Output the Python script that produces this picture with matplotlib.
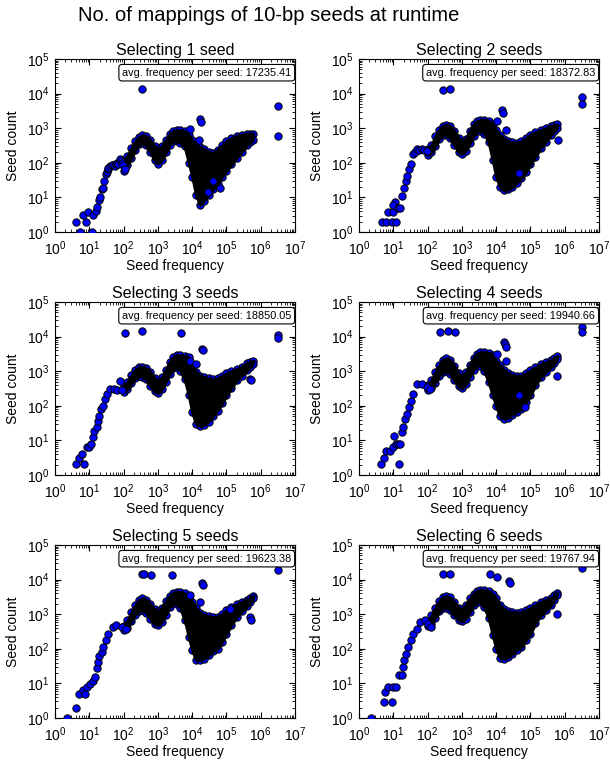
import matplotlib
matplotlib.use("Agg")
import matplotlib.pyplot as plt
from matplotlib.ticker import LogLocator

plt.rcParams['font.family'] = ['Liberation Sans', 'DejaVu Sans']
plt.rcParams['mathtext.default'] = 'regular'

titles = ["Selecting 1 seed", "Selecting 2 seeds", "Selecting 3 seeds",
          "Selecting 4 seeds", "Selecting 5 seeds", "Selecting 6 seeds"]
avg_freq = [17235.41, 18372.83, 18850.05, 19940.66, 19623.38, 19767.94]

# frequencies where the dense part of the cloud is sampled
band_x = [100, 130, 170, 220, 280, 350, 450, 600, 800, 1000, 1300, 1700, 2200, 2800,
          3500, 4500, 6000, 8000, 1e4, 1.3e4, 1.7e4, 2.2e4, 3e4, 4e4, 5.5e4, 7.5e4,
          1e5, 1.4e5, 2e5, 2.8e5, 4e5, 5e5, 6e5]

hi1 = [115, 160, 270, 420, 550, 630, 600, 450, 300, 250, 300, 450, 680, 820, 870, 880, 820,
       650, 450, 320, 290, 250, 210, 190, 240, 320, 420, 520, 600, 650, 680, 700, 700]
lo1 = [60, 85, 140, 240, 340, 370, 320, 200, 120, 95, 120, 200, 330, 420, 420, 380, 300,
       100, 40, 12, 6, 8, 12, 17, 25, 40, 60, 90, 140, 210, 330, 400, 460]
hi2 = [250, 330, 580, 900, 1150, 1250, 1180, 850, 540, 400, 500, 850, 1300, 1600, 1750, 1750,
       1650, 1350, 900, 620, 500, 430, 390, 380, 420, 520, 650, 760, 880, 1000, 1150, 1250, 1300]
lo2 = [170, 200, 310, 500, 650, 620, 520, 330, 210, 180, 220, 370, 600, 820, 850, 700, 400,
       120, 40, 20, 16, 17, 20, 27, 36, 55, 90, 150, 270, 400, 650, 850, 1000]
hi3 = [380, 500, 780, 1100, 1300, 1350, 1250, 950, 640, 500, 660, 1100, 1850, 2550, 2900, 2900,
       2800, 2500, 1500, 950, 750, 680, 620, 580, 620, 730, 860, 1000, 1150, 1350, 1700, 1850, 2000]
lo3 = [250, 300, 450, 630, 720, 700, 580, 370, 270, 230, 300, 500, 820, 1200, 1300, 1000, 600,
       200, 65, 30, 26, 28, 35, 50, 73, 120, 200, 330, 540, 750, 1060, 1350, 1650]
hi4 = [400, 560, 950, 1550, 2150, 2350, 2150, 1450, 880, 700, 920, 1550, 2450, 3250, 3550, 3550,
       3400, 3000, 2000, 1500, 1100, 880, 780, 720, 740, 860, 1050, 1300, 1600, 1800, 2100, 2400, 2700]
lo4 = [280, 320, 470, 740, 950, 1000, 850, 540, 370, 320, 420, 700, 1100, 1500, 1400, 1000, 500,
       200, 100, 50, 43, 45, 55, 68, 81, 130, 200, 400, 670, 950, 1300, 1700, 2300]
hi5 = [450, 660, 1150, 1850, 2550, 2900, 2650, 1950, 1400, 1200, 1550, 2350, 3350, 4150, 4400, 4400,
       4000, 3200, 2300, 1500, 1100, 950, 880, 820, 850, 1000, 1300, 1600, 1950, 2300, 2650, 2950, 3300]
lo5 = [350, 400, 650, 980, 1250, 1300, 1100, 740, 530, 480, 600, 980, 1600, 2050, 2000, 1500, 700,
       220, 90, 48, 48, 52, 65, 85, 100, 160, 270, 500, 830, 1200, 1700, 2200, 2850]
hi6 = [600, 920, 1550, 2450, 3050, 3350, 3050, 2250, 1550, 1350, 1850, 2850, 3950, 4750, 5000, 5000,
       4700, 3800, 2850, 1800, 1400, 1200, 1150, 1100, 1150, 1300, 1500, 1850, 2250, 2600, 3000, 3500, 4000]
lo6 = [450, 530, 800, 1200, 1480, 1550, 1320, 920, 700, 620, 750, 1150, 1800, 2250, 2200, 1600, 800,
       250, 100, 55, 52, 57, 70, 95, 112, 180, 270, 550, 930, 1300, 1800, 2600, 3600]

# isolated seeds (low-frequency tail and outliers)
sx1 = [4.1, 5.3, 6.4, 8, 9.4, 11.7, 13, 15.6, 17, 19.6, 20.5, 23, 25.6, 27, 30, 32, 34, 36, 40, 45,
       50, 55, 62, 65, 70, 78, 85, 90, 95, 110, 350, 8600, 15700, 17000, 18000, 29000, 41000, 63000,
       3.2e6, 3.2e6]
sy1 = [2, 1, 3.1, 2, 3.8, 1, 3.2, 4, 5.3, 8.2, 10, 17, 19, 30, 47, 55, 65, 70, 80, 85,
       87, 80, 95, 100, 91, 127, 110, 100, 85, 65, 14000, 960, 470, 1900, 1500, 14, 30, 19,
       4300, 590]
sx2 = [4.7, 6.3, 9.3, 12, 7.1, 9.9, 11, 10, 13.3, 15.5, 17.4, 20, 23, 26, 28, 33, 38, 42, 48, 58,
       67, 80, 94, 280, 450, 10500, 14800, 15500, 19000, 45000, 6.4e5, 3.2e6, 3.2e6]
sy2 = [2, 2, 2, 2, 3.8, 3.8, 7.2, 6, 5, 5, 11, 19, 30, 42, 65, 90, 180, 200, 250, 230,
       250, 240, 225, 13000, 14000, 1600, 3400, 2700, 880, 50, 450, 7900, 4900]
sx3 = [4.1, 5.1, 6.1, 7.2, 8.4, 10.1, 11.3, 13.2, 14.1, 16.5, 17.6, 19.8, 22, 25, 28, 32, 40, 54,
       65, 79, 90, 110, 350, 4700, 8600, 13000, 20000, 21000, 5e5, 5.2e5, 3.2e6, 3.2e6]
sy3 = [2.1, 3.2, 4, 2.1, 6.6, 6.3, 7.9, 12.3, 19, 24, 37, 52, 81, 100, 160, 220, 310, 310,
       290, 520, 280, 13000, 14500, 13000, 2000, 1600, 4500, 4200, 600, 540, 11000, 9000]
sx4 = [4.3, 5.3, 6.3, 7.9, 9.9, 10.6, 12, 13.3, 14.5, 16, 17.4, 19.5, 22, 24.5, 28.5, 33, 38, 48,
       67, 94, 118, 230, 390, 620, 10500, 17000, 18000, 19000, 20000, 46000, 70000, 6e5, 3.2e6, 3.2e6]
sy4 = [2.1, 3.1, 5, 5, 6.3, 13, 8, 7.9, 2.1, 7.9, 17, 24, 42, 58, 91, 140, 220, 430,
       430, 350, 310, 13500, 14500, 14000, 3200, 6900, 6200, 5000, 2000, 200, 91, 750, 19000, 13500]
sx5 = [2.2, 4.1, 5.1, 6.4, 7.5, 8.7, 10.5, 12.5, 14.6, 16.4, 18.3, 19.6, 23, 25.6, 30.6, 36, 48, 62,
       88, 120, 350, 390, 650, 2500, 8800, 17000, 20000, 21000, 1.3e5, 5e5, 5.2e5, 3.2e6]
sy5 = [1, 1.95, 5, 6.5, 5, 7.7, 9.3, 12, 15.8, 28, 41, 64, 80, 112, 176, 270, 430, 480,
       430, 380, 15000, 14500, 14000, 13500, 3500, 2300, 8000, 7000, 1450, 830, 700, 19000]
sx6 = [2.2, 5.3, 5.9, 7.1, 9.3, 9.9, 12.4, 14.5, 17.4, 18.6, 20.8, 23, 27, 33, 38, 48, 60, 84,
       105, 130, 275, 450, 6700, 10500, 24000, 25000, 6e5, 3.2e6]
sy6 = [1, 2.85, 5.5, 7.8, 2.85, 7.8, 8.1, 17, 17, 30, 46, 72, 112, 184, 270, 380, 600, 670,
       530, 430, 15000, 15000, 15000, 12000, 9000, 8000, 1000, 21000]

his = [hi1, hi2, hi3, hi4, hi5, hi6]
los = [lo1, lo2, lo3, lo4, lo5, lo6]
sxs = [sx1, sx2, sx3, sx4, sx5, sx6]
sys_ = [sy1, sy2, sy3, sy4, sy5, sy6]

fig = plt.figure(figsize=(6.1, 7.61), dpi=100)
fig.text(0.441, 0.979, "No. of mappings of 10-bp seeds at runtime", fontsize=14.5,
         ha='center', va='center')

lefts = [0.0902, 0.5885]
bottoms = [0.6951, 0.3758, 0.0565]
w, h = 0.3934, 0.2273

mk = dict(s=28, c='#0000ff', edgecolors='black', linewidths=0.7)

for i in range(6):
    ax = fig.add_axes([lefts[i % 2], bottoms[i // 2], w, h])
    ax.set_xscale('log')
    ax.set_yscale('log')
    # edge markers sit under the dense black mass so only their rims show
    ax.scatter(band_x, his[i], zorder=2, **mk)
    ax.scatter(band_x, los[i], zorder=2, **mk)
    ax.fill_between(band_x, los[i], his[i], facecolor='black', edgecolor='black',
                    lw=2.2, zorder=3)
    ax.scatter(sxs[i], sys_[i], zorder=4, **mk)
    ax.set_xlim(1, 1e7)
    ax.set_ylim(1, 1e5)
    for axis in (ax.xaxis, ax.yaxis):
        axis.set_major_locator(LogLocator(base=10, numticks=12))
        axis.set_minor_locator(LogLocator(base=10, subs=range(2, 10), numticks=12))
    ax.set_title(titles[i], fontsize=11.5, pad=3)
    ax.set_xlabel("Seed frequency", fontsize=10, labelpad=1)
    ax.set_ylabel("Seed count", fontsize=10)
    ax.yaxis.set_label_coords(-0.145, 0.5)
    ax.tick_params(which='both', direction='in', top=True, right=True, labelsize=10)
    ax.tick_params(which='major', length=4)
    ax.tick_params(axis='x', which='major', pad=5)
    ax.tick_params(axis='y', which='major', pad=4)
    ax.tick_params(which='minor', length=2)
    ax.text(0.985, 0.95, "avg. frequency per seed: %.2f" % avg_freq[i],
            transform=ax.transAxes, ha='right', va='top', fontsize=7.8, zorder=5,
            bbox=dict(boxstyle='round,pad=0.3', fc='white', ec='black', lw=0.8))

fig.savefig("out.png", dpi=100)
